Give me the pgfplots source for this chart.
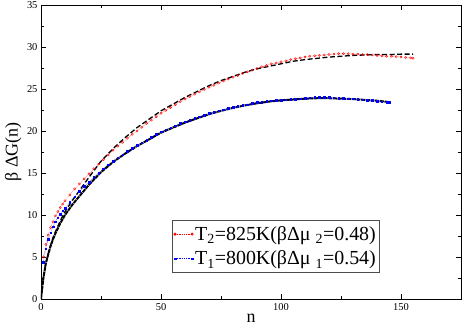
\documentclass[border=0pt]{standalone}
\usepackage{fontspec}
\setmainfont{Liberation Serif}
\usepackage{pgfplots}
\pgfplotsset{compat=1.18}
\begin{document}
\begin{tikzpicture}
\begin{axis}[scale only axis, width=420bp, height=294bp,
  xmin=0, xmax=175, ymin=0, ymax=35,
  xtick={0,50,100,150}, minor x tick num=1,
  ytick={0,5,...,35}, minor y tick num=1,
  tick align=inside, major tick length=5bp, minor tick length=3bp,
  tick style={black, line width=0.5pt}, axis line style={line width=0.8pt},
  ticklabel style={font=\fontsize{10.5}{11}\selectfont},
  xticklabel style={yshift=-1bp},
  /pgf/number format/assume math mode=true,
  xlabel={n}, ylabel={β ΔG(n)},
  xlabel style={font=\fontsize{18}{18}\selectfont, at={(axis description cs:0.5,-0.066)}, anchor=center},
  ylabel style={font=\fontsize{18}{18}\selectfont, at={(axis description cs:-0.066,0.5)}, anchor=center},
  legend cell align=left,
  legend style={font=\fontsize{20}{24}\selectfont, at={(0.311,0.089)}, anchor=south west,
    draw=black!70, line width=0.8pt, inner xsep=2pt, inner ysep=4pt, row sep=5pt},
  legend image code/.code={\draw[#1] plot coordinates {(0cm,0cm) (0.6cm,0cm)};},
]
% T2 data
\addplot[red, densely dotted, mark=o, mark size=1.1pt, mark options={solid}] coordinates {
(1,5.0)(2,6.5)(3,7.6)(4,8.5)(5,9.2)(6,9.9)(7,10.4)(8,10.9)(9,11.3)(10,11.7)(12,12.4)(14,13.1)(16,13.7)(18,14.3)(20,14.9)
(22,15.5)(24,16.05)(26,16.6)(28,17.15)(30,17.7)(32,18.2)(34,18.65)(36,19.15)(38,19.6)(40,20.0)(42,20.45)(44,20.9)(46,21.3)(48,21.7)
(50,22.1)(52,22.45)(54,22.8)(56,23.15)(58,23.5)(60,23.8)(62,24.1)(64,24.4)(66,24.65)(68,24.95)(70,25.2)(72,25.45)(74,25.7)(76,25.95)
(78,26.2)(80,26.4)(82,26.6)(84,26.85)(86,27.05)(88,27.25)(90,27.45)(92,27.65)(94,27.8)(96,28.0)(98,28.1)(100,28.25)(102,28.35)
(104,28.5)(106,28.6)(108,28.7)(110,28.8)(112,28.9)(114,28.95)(116,29.0)(118,29.05)(120,29.1)(122,29.15)(124,29.2)(126,29.2)
(128,29.2)(130,29.15)(132,29.15)(134,29.1)(136,29.1)(138,29.05)(140,29.0)(142,28.95)(144,28.9)(146,28.9)(148,28.85)(150,28.8)
(152,28.75)(154,28.7)(155,28.65)};
\addlegendentry{T\textsubscript{2}=825K(βΔμ \textsubscript{2}=0.48)}
% T1 data
\addplot[blue, densely dotted, mark=square*, mark size=0.8pt, mark options={solid}] coordinates {
(1,4.4)(2,6.0)(3,7.1)(4,7.9)(5,8.6)(6,9.2)(7,9.7)(8,10.1)(9,10.5)(10,10.8)(12,11.5)(14,12.2)(16,12.8)(18,13.4)(20,13.9)
(22,14.5)(24,15.0)(26,15.5)(28,16.0)(30,16.4)(32,16.8)(34,17.2)(36,17.6)(38,17.95)(40,18.3)(42,18.6)(44,18.9)(46,19.25)(48,19.6)
(50,19.9)(52,20.15)(54,20.4)(56,20.65)(58,20.9)(60,21.1)(62,21.3)(64,21.5)(66,21.7)(68,21.9)(70,22.1)(72,22.25)(74,22.4)(76,22.55)
(78,22.7)(80,22.8)(82,22.95)(84,23.05)(86,23.15)(88,23.3)(90,23.4)(92,23.45)(94,23.55)(96,23.6)(98,23.65)(100,23.7)(102,23.75)
(104,23.8)(106,23.8)(108,23.85)(110,23.9)(112,23.95)(114,24.0)(116,24.0)(118,24.0)(120,24.0)(122,23.95)(124,23.9)(126,23.9)
(128,23.85)(130,23.85)(132,23.8)(134,23.75)(136,23.7)(138,23.65)(140,23.55)(142,23.5)(144,23.45)(145,23.4)};
\addlegendentry{T\textsubscript{1}=800K(βΔμ \textsubscript{1}=0.54)}
% fits
\addplot[black, line width=1.3pt, dash pattern=on 5pt off 2.5pt, forget plot] coordinates {
(0,0)(1,2.6)(2,4.3)(3,5.4)(4,6.4)(5,7.3)(6,8.0)(8,9.3)(10,10.4)(13,11.7)(15,12.5)(20,14.5)(25,16.4)(30,17.9)(35,19.2)
(40,20.4)(45,21.4)(50,22.4)(55,23.2)(60,24.0)(65,24.7)(70,25.4)(75,26.0)(80,26.5)(85,27.0)(90,27.4)(95,27.7)(100,28.0)
(105,28.3)(110,28.5)(115,28.65)(120,28.8)(125,28.9)(130,29.0)(135,29.05)(140,29.1)(145,29.1)(150,29.15)(155,29.15)};
\addplot[black, line width=2pt, dash pattern=on 4pt off 0.7pt, forget plot] coordinates {
(0,0)(1,2.5)(2,4.2)(3,5.3)(4,6.3)(5,7.1)(6,7.8)(8,9.0)(10,10.0)(13,11.2)(15,11.9)(20,13.6)(25,15.1)(30,16.3)(35,17.3)
(40,18.2)(45,19.0)(50,19.8)(55,20.4)(60,21.0)(65,21.5)(70,22.0)(75,22.4)(80,22.75)(85,23.05)(90,23.3)(95,23.5)(100,23.65)
(105,23.75)(110,23.85)(115,23.9)(120,23.9)(125,23.85)(130,23.8)(135,23.7)(140,23.6)(145,23.45)};
\end{axis}
\pgfresetboundingbox
\path[use as bounding box] (-41bp,-28bp) rectangle (422bp,299bp);
\end{tikzpicture}
\end{document}
